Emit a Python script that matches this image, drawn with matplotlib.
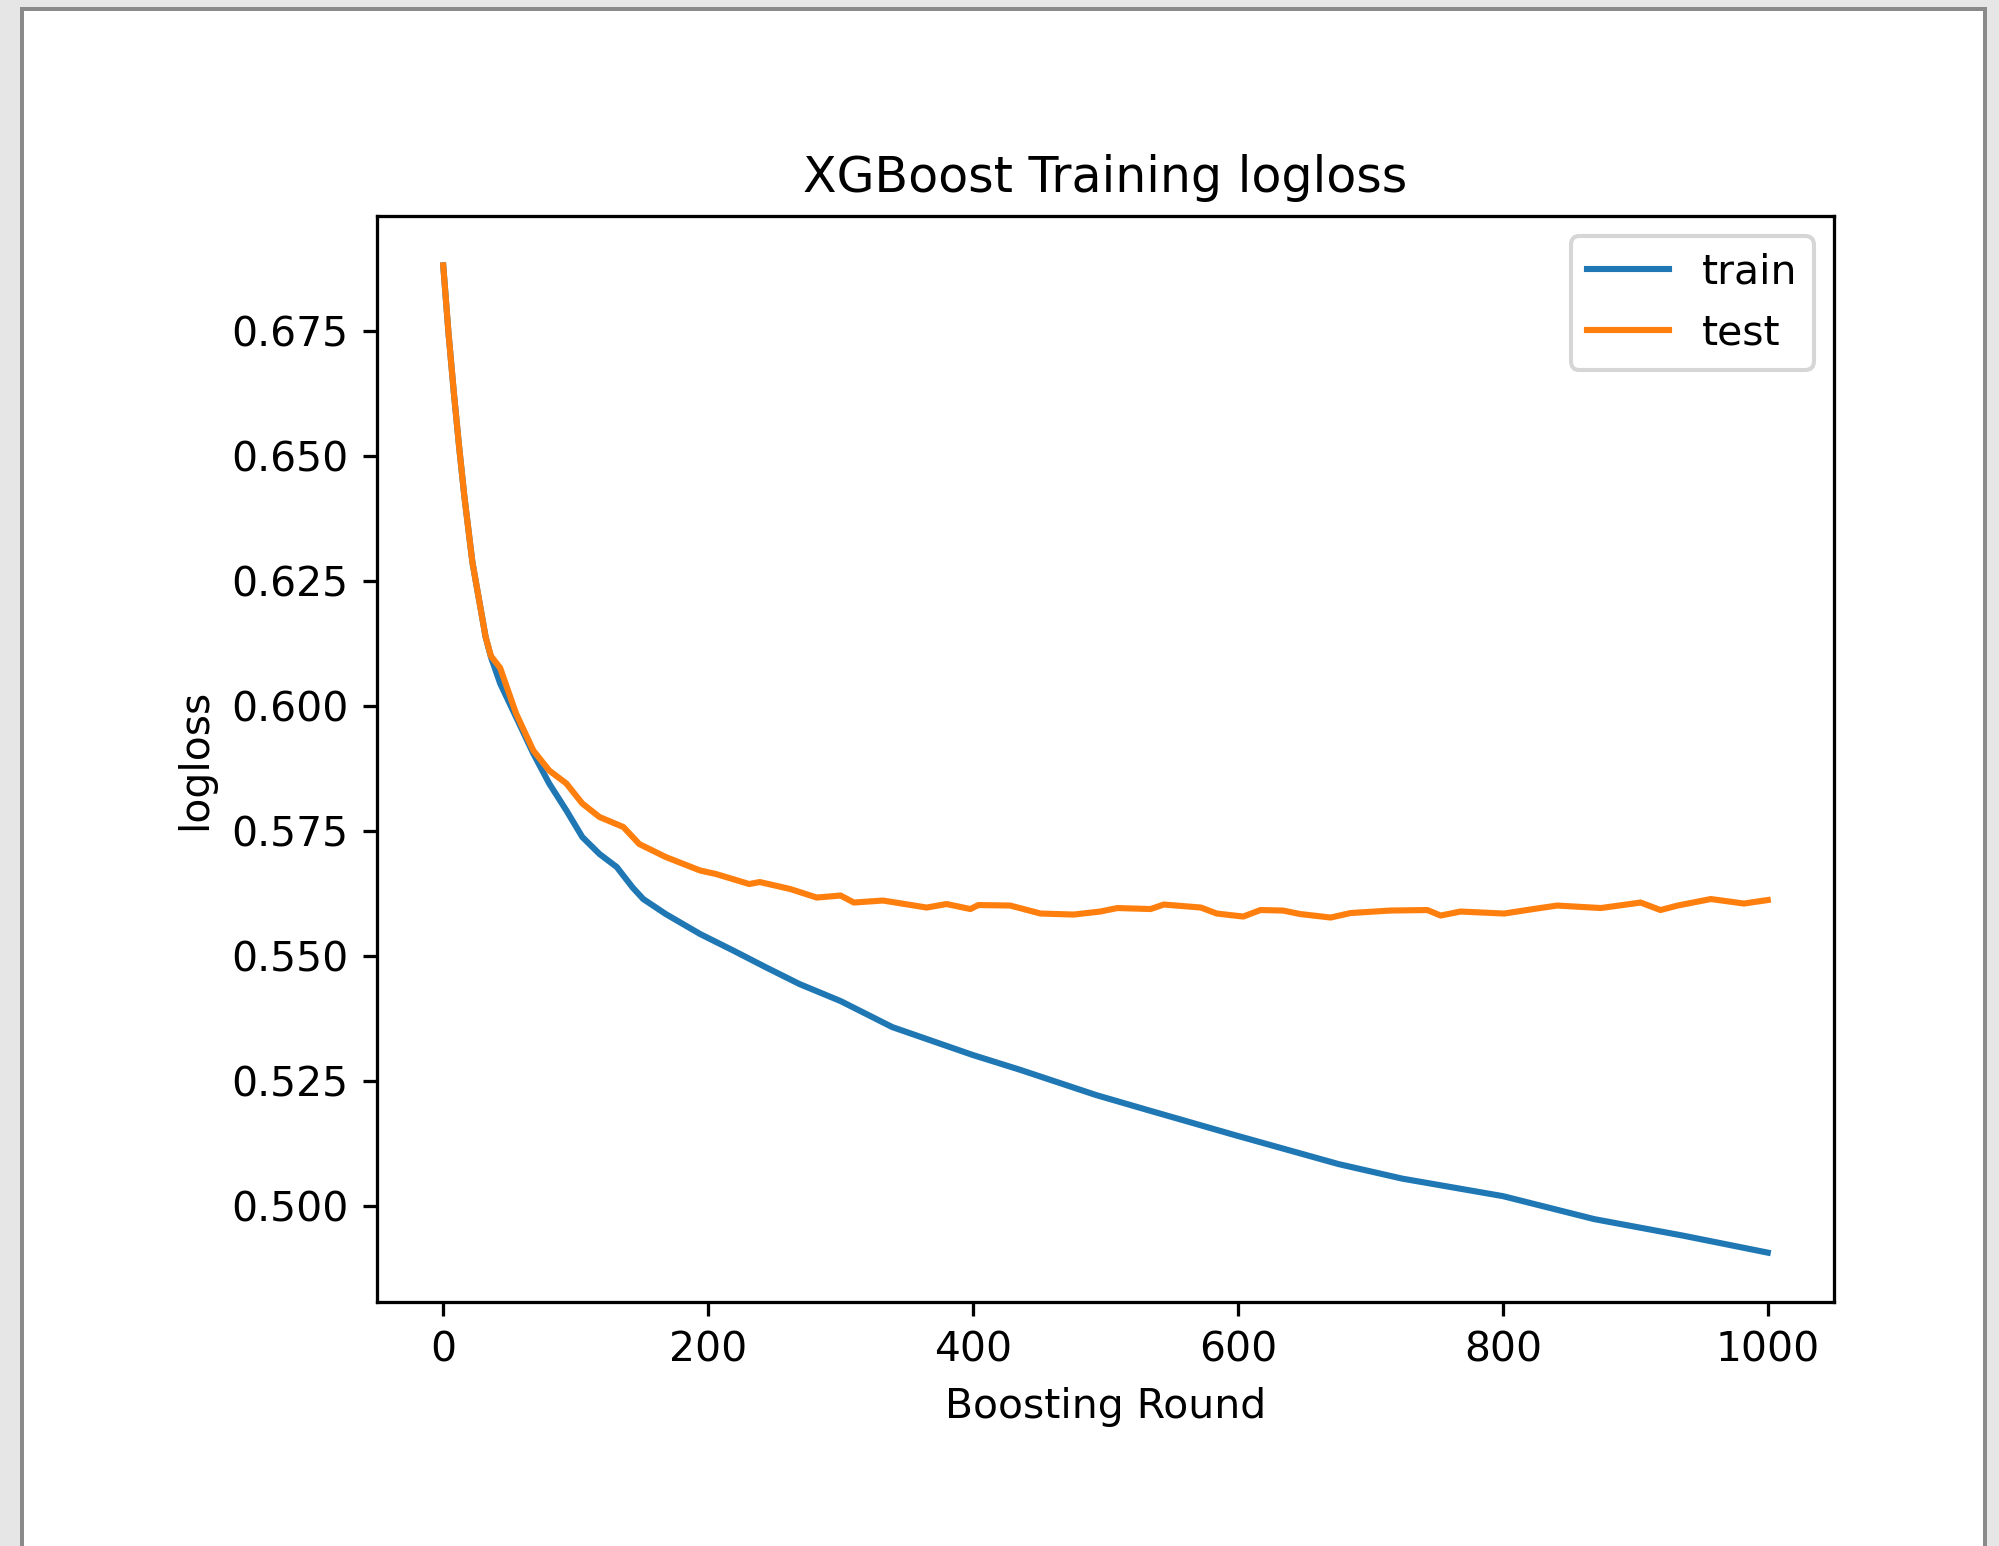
import numpy as np
import matplotlib
matplotlib.use('Agg')
import matplotlib.pyplot as plt
from matplotlib.patches import Rectangle

# values
train_rounds = [0, 4, 8, 12, 16, 22, 32, 36, 43, 55, 68, 80, 93, 105, 118, 131, 143,
                151, 168, 194, 219, 244, 269, 300, 339, 400, 435, 493, 532, 599, 676,
                724, 800, 869, 936, 1000]
train_loss = [0.6881, 0.6745, 0.6627, 0.6518, 0.6418, 0.6288, 0.6138, 0.6098, 0.6045,
              0.5978, 0.5905, 0.5845, 0.5791, 0.5738, 0.5704, 0.5678, 0.5637, 0.5614,
              0.5584, 0.5544, 0.5511, 0.5477, 0.5444, 0.5410, 0.5358, 0.5302, 0.5273,
              0.5222, 0.5192, 0.5141, 0.5084, 0.5055, 0.5020, 0.4974, 0.4941, 0.4907]

test_rounds = [0, 4, 8, 12, 16, 22, 32, 36, 43, 55, 68, 80, 93, 105, 118, 136, 148,
               168, 194, 206, 231, 239, 262, 282, 300, 310, 332, 365, 380, 398, 404,
               428, 451, 476, 496, 509, 534, 544, 572, 584, 604, 617, 634, 647, 670,
               685, 715, 743, 753, 768, 801, 823, 841, 874, 904, 919, 932, 957, 982, 1000]
test_loss = [0.6881, 0.6745, 0.6627, 0.6518, 0.6418, 0.6288, 0.6138, 0.6100, 0.6076,
             0.5985, 0.5911, 0.5871, 0.5845, 0.5805, 0.5778, 0.5758, 0.5724, 0.5698,
             0.5671, 0.5664, 0.5644, 0.5648, 0.5634, 0.5617, 0.5621, 0.5607, 0.5611,
             0.5597, 0.5604, 0.5594, 0.5602, 0.5601, 0.5585, 0.5583, 0.5589, 0.5596,
             0.5594, 0.5603, 0.5597, 0.5585, 0.5579, 0.5592, 0.5591, 0.5584, 0.5577,
             0.5586, 0.5591, 0.5592, 0.5581, 0.5589, 0.5585, 0.5594, 0.5601, 0.5596,
             0.5607, 0.5592, 0.5601, 0.5614, 0.5605, 0.5612]

W, H = 1999, 1546
DPI = 294
fig = plt.figure(figsize=(W / DPI, H / DPI), dpi=DPI, facecolor='#e6e6e6')

# screenshot frame around the figure
fig.add_artist(Rectangle((20 / W, 0), (1987 - 20) / W, 1 - 6.7 / H,
                         transform=fig.transFigure, facecolor='#8a8a8a',
                         edgecolor='none', zorder=-20))
fig.add_artist(Rectangle((24 / W, 0), (1983 - 24) / W, 1 - 10.5 / H,
                         transform=fig.transFigure, facecolor='white',
                         edgecolor='none', zorder=-19))

ax = fig.add_axes([377 / W, 1 - 1302 / H, (1834 - 377) / W, (1302 - 216) / H])
ax.plot(train_rounds, train_loss, label='train')
ax.plot(test_rounds, test_loss, label='test')
ax.set_title('XGBoost Training logloss')
ax.set_xlabel('Boosting Round')
ax.set_ylabel('logloss')
ax.legend()

fig.savefig('out.png', dpi=DPI, facecolor=fig.get_facecolor())
